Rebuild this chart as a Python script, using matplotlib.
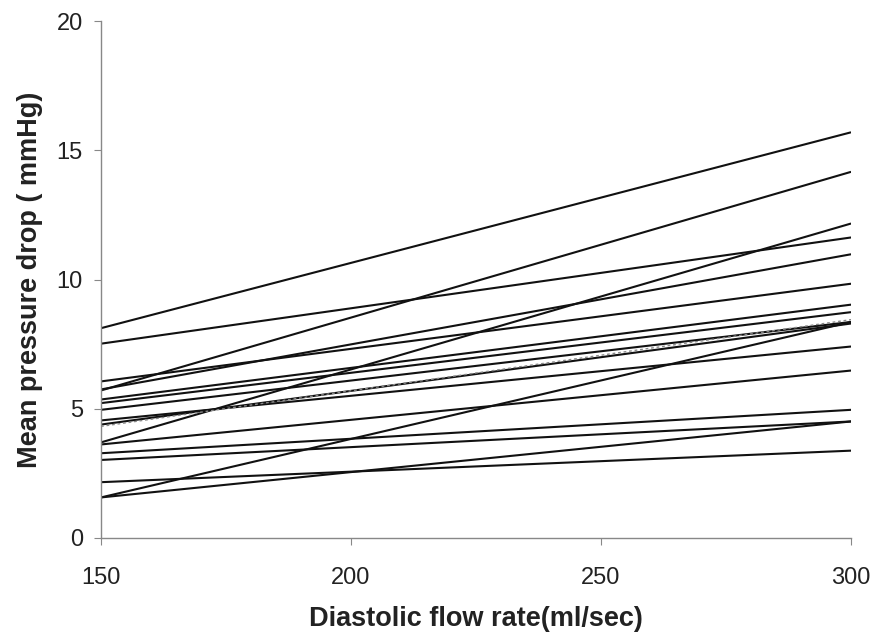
#!/usr/bin/env python3
"""Mean pressure drop vs diastolic flow rate, one line per subject"""
import matplotlib
matplotlib.use('Agg')
import matplotlib.pyplot as plt

plt.rcParams['font.family'] = ['Liberation Sans', 'DejaVu Sans']

# flow rates at the two ends of each line
flow = [150, 300]

# pressure drop at 150 and at 300 ml/sec, one pair per subject
drop_150 = [8.12, 7.52, 5.71, 3.70, 1.57, 6.06, 5.75, 5.36, 5.22,
            4.96, 4.55, 4.39, 3.62, 3.28, 3.02, 1.57, 2.16]
drop_300 = [15.70, 11.63, 14.17, 12.17, 8.36, 9.84, 10.98, 9.03, 8.74,
            8.36, 7.41, 8.30, 6.48, 4.96, 4.51, 4.51, 3.38]

# faint dotted line in the middle of the bundle
dotted_drop = [4.32, 8.45]

x_ticks = [150, 200, 250, 300]
y_ticks = [0, 5, 10, 15, 20]

fig = plt.figure(figsize=(8.77, 6.42), dpi=100)
ax = fig.add_axes([0.1152, 0.162, 0.8552, 0.805])

for a, b in zip(drop_150, drop_300):
    ax.plot(flow, [a, b], color='#111111', linewidth=1.5, solid_capstyle='butt')

ax.plot(flow, dotted_drop, color='#888888', linewidth=1.0, linestyle=(0, (2, 2)))

ax.set_xlim(150, 300)
ax.set_ylim(0, 20)
ax.set_xticks(x_ticks)
ax.set_yticks(y_ticks)

for side in ['top', 'right']:
    ax.spines[side].set_visible(False)
for side in ['left', 'bottom']:
    ax.spines[side].set_color('#888888')
    ax.spines[side].set_linewidth(1.0)

ax.tick_params(axis='y', direction='out', length=5, width=0.8, color='#888888',
               labelsize=17, pad=8, labelcolor='#222222')
ax.tick_params(axis='x', direction='out', length=5, width=0.8, color='#888888',
               labelsize=17, pad=16, labelcolor='#222222')

ax.set_xlabel('Diastolic flow rate(ml/sec)', fontsize=19.5, fontweight='bold',
              labelpad=12, color='#222222')
ax.set_ylabel('Mean pressure drop ( mmHg)', fontsize=19.5, fontweight='bold',
              labelpad=10, color='#222222')

fig.savefig('out.png', dpi=100)
